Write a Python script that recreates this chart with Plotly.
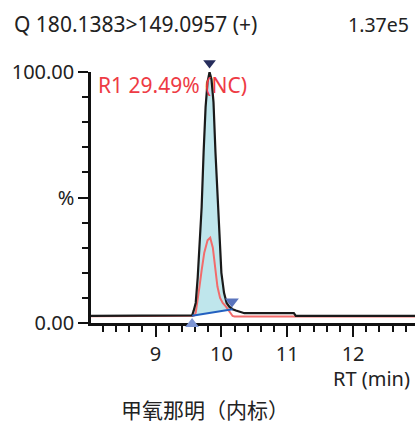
import numpy as np
import plotly.graph_objects as go

# Retention time (min) and relative response (%) of the quantifier trace
rt_main = [8.02, 9.50, 9.555, 9.58, 9.61, 9.64, 9.67, 9.70, 9.73, 9.76, 9.79, 9.82,
           9.85, 9.88, 9.91, 9.94, 9.97, 10.00, 10.04, 10.08, 10.12, 10.17, 10.22,
           10.28, 10.35, 11.10, 11.13, 12.94]
resp_main = [2.8, 2.8, 3.0, 5.0, 8.0, 18.0, 30.0, 46.0, 68.0, 86.0, 96.0, 100.0,
             97.0, 88.0, 68.0, 50.0, 35.0, 20.0, 12.0, 8.0, 6.5, 5.5, 5.0,
             4.5, 3.9, 3.9, 2.8, 2.8]

# Overlay trace (red)
rt_ref = [8.02, 9.55, 9.58, 9.61, 9.64, 9.67, 9.70, 9.74, 9.79, 9.83, 9.87, 9.91,
          9.94, 9.98, 10.02, 10.07, 10.12, 10.17, 10.20, 12.94]
resp_ref = [2.7, 2.7, 2.9, 4.0, 9.0, 15.0, 21.0, 28.0, 33.0, 34.0, 30.0, 21.0,
            14.5, 10.0, 8.0, 6.5, 4.5, 2.8, 2.6, 2.6]

# Integration window and baseline end points
peak_start = (9.555, 2.9)
peak_end = (10.17, 5.5)
apex = (9.82, 100.0)

title_left = "Q 180.1383>149.0957 (+)"
title_right = "1.37e5"
peak_label = "R1 29.49% (NC)"
compound = "甲氧那明（内标）"

FONT = "Noto Sans"
TXT = "#222222"
AX = "#111111"

fig = go.Figure()

# shaded integrated area between trace and baseline
x_main = np.array(rt_main)
y_main = np.array(resp_main)
inside = (x_main > peak_start[0]) & (x_main < peak_end[0])
xs = np.concatenate([[peak_start[0]], x_main[inside], [peak_end[0]]])
ys = np.concatenate([[peak_start[1]], y_main[inside], [peak_end[1]]])
fig.add_trace(go.Scatter(
    x=list(xs) + [peak_end[0], peak_start[0]],
    y=list(ys) + [peak_end[1], peak_start[1]],
    fill="toself", fillcolor="#bfe6ec", line=dict(width=0),
    mode="lines", hoverinfo="skip", showlegend=False))

fig.add_trace(go.Scatter(x=rt_ref, y=resp_ref, mode="lines",
                         line=dict(color="#f26b6b", width=2), showlegend=False))
fig.add_trace(go.Scatter(x=rt_main, y=resp_main, mode="lines",
                         line=dict(color="#1a1a1a", width=2.2), showlegend=False))

# baseline
fig.add_trace(go.Scatter(x=[peak_start[0], peak_end[0]], y=[peak_start[1], peak_end[1]],
                         mode="lines", line=dict(color="#2360c0", width=2),
                         showlegend=False))

# peak markers: start (on the axis), end, apex (above top)
fig.add_trace(go.Scatter(x=[peak_start[0]], y=[0], mode="markers",
                         marker=dict(symbol="triangle-up", size=12, color="#7d95d3",
                                     angle=0, standoff=1),
                         cliponaxis=False, showlegend=False))
fig.add_trace(go.Scatter(x=[peak_end[0] - 0.01], y=[8.6], mode="markers",
                         marker=dict(symbol="triangle-down", size=12, color="#5a74bd"),
                         cliponaxis=False, showlegend=False))
fig.add_trace(go.Scatter(x=[apex[0]], y=[apex[1]], mode="markers",
                         marker=dict(symbol="triangle-up", size=11, color="#262d5c",
                                     angle=180, standoff=9),
                         cliponaxis=False, showlegend=False))

fig.update_layout(
    width=415, height=423,
    margin=dict(l=91, r=0, t=72, b=100),
    paper_bgcolor="white", plot_bgcolor="white",
    font=dict(family=FONT, size=20, color=TXT),
    xaxis=dict(range=[8.02, 12.94], showgrid=False, zeroline=False,
               showline=True, linecolor=AX, linewidth=2.5, layer="below traces",
               tickvals=[9, 10, 11, 12], ticks="outside", ticklen=11, tickwidth=2,
               tickcolor=AX,
               minor=dict(dtick=0.2, tick0=8.0, ticks="outside", ticklen=6,
                          tickwidth=2, tickcolor=AX),
               tickfont=dict(size=20, color=TXT)),
    yaxis=dict(range=[0, 100], showgrid=False, zeroline=False,
               showline=True, linecolor=AX, linewidth=2.5, layer="below traces",
               tickvals=[0, 50, 100], ticktext=["0.00", "%", "100.00"],
               ticks="outside", ticklen=10, tickwidth=2, tickcolor=AX,
               minor=dict(dtick=10, ticks="outside", ticklen=6, tickwidth=2,
                          tickcolor=AX),
               tickfont=dict(size=20, color=TXT)),
    annotations=[
        dict(text=title_left, xref="paper", yref="paper", x=-0.244, y=1.0,
             xanchor="left", yanchor="middle", yshift=48, showarrow=False,
             font=dict(size=21, color=TXT)),
        dict(text=title_right, xref="paper", yref="paper", x=0.988, y=1.0,
             xanchor="right", yanchor="middle", yshift=48, showarrow=False,
             font=dict(size=19.5, color=TXT)),
        dict(text=peak_label, xref="x", yref="y", x=8.09, y=95,
             xanchor="left", yanchor="middle", showarrow=False,
             font=dict(size=21, color="#ee3b44")),
        dict(text="RT (min)", xref="paper", yref="paper", x=0.99, y=0,
             xanchor="right", yanchor="middle", yshift=-55, showarrow=False,
             font=dict(size=20, color=TXT)),
        dict(text=compound, xref="paper", yref="paper", x=0.352, y=0,
             xanchor="center", yanchor="middle", yshift=-86, showarrow=False,
             font=dict(size=21, color=TXT, family="Noto Sans CJK SC")),
    ],
)

fig.write_html("out.html")
